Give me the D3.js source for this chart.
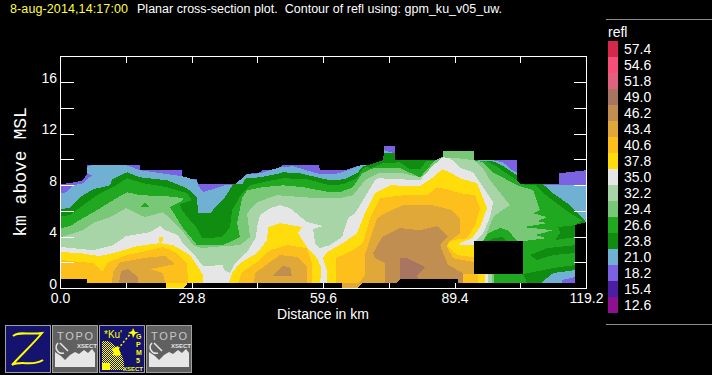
<!DOCTYPE html>
<html><head><meta charset="utf-8">
<script src="https://cdn.jsdelivr.net/npm/d3@7"></script>
<style>html,body{margin:0;padding:0;background:#000;overflow:hidden}svg{display:block}text{font-family:"Liberation Sans",sans-serif;fill:#fff;white-space:pre}</style>
</head><body><svg id="c" width="712" height="375"></svg>
<script>
const legendValues=[57.4,54.6,51.8,49.0,46.2,43.4,40.6,37.8,35.0,32.2,29.4,26.6,23.8,21.0,18.2,15.4,12.6];
const legendColors=["#d5284c","#f74f78","#e0627f","#a87660","#c08e50","#e0a838","#fdbf1c","#ffdc0c","#e6e6e6","#a8d5a8","#78c878","#20a820","#108c10","#70b0d2","#7b62e2","#4a1fa2","#8c1090"];
const xTicks=[0,14.9,29.8,44.7,59.6,74.5,89.4,104.3,119.2];
const xTickLabels=["0.0","29.8","59.6","89.4","119.2"];
const yTicks=[0,2,4,6,8,10,12,14,16];
const yTickLabels=["0","4","8","12","16"];
// contour outlines: [distance km, height km]
const refl182=[[.11,8.1],[3.29,8.26],[5.1,8.41],[6.01,8.88],[6.01,9.57],[18.02,9.57],[18.02,9.19],[27.54,9.19],[27.54,8.49],[30.94,8.49],[31.16,8.1],[37.28,8.1],[41.14,8.1],[42.04,8.88],[45.44,9.03],[45.67,9.19],[49.75,9.26],[50.2,9.57],[58.59,9.57],[58.82,9.19],[64.48,9.19],[67.88,9.57],[73.09,9.57],[73.32,11.05],[75.81,11.05],[75.81,9.96],[84.88,9.96],[86.69,10.27],[86.69,10.66],[93.72,10.66],[93.72,9.96],[103.47,9.96],[103.47,8.1],[112.98,8.1],[112.98,8.95],[119.1,9.19],[119.1,5.16],[116.62,4.92],[116.62,.43],[.11,.43]];
const refl210=[[.11,7.4],[1.25,7.48],[2.83,8.02],[5.1,8.18],[7.14,8.8],[6.01,8.95],[6.01,9.45],[7,9.57],[15.07,9.57],[18.02,9.19],[27.54,8.72],[30.94,8.41],[31.16,8.02],[32.3,7.48],[37.28,8.02],[39.55,8.1],[42.27,8.88],[45.22,8.95],[47.48,9.19],[49.75,9.42],[52.7,9.5],[56.55,9.11],[58.82,8.88],[62.21,8.88],[64.48,9.11],[67.43,9.5],[67.88,9.57],[73.09,9.57],[73.32,10.74],[75.81,10.5],[75.81,9.96],[84.88,9.96],[86.69,10.27],[86.69,10.66],[93.72,10.66],[93.72,9.96],[98.03,9.96],[100.29,9.81],[102.33,9.19],[103.47,9.03],[103.47,8.1],[111.63,8.02],[115.03,8.02],[119.1,8.02],[119.1,5.16],[116.62,4.92],[116.62,.89],[113.67,.66],[113.67,.43],[.11,.43]];
const refl238=[[.11,6.16],[2.15,6.3],[3.29,6.71],[5.1,7.25],[7.37,7.71],[11.22,8.02],[11.67,8.49],[15.07,9.03],[18.02,8.64],[24.14,8.41],[28.67,7.79],[30.94,7.09],[31.16,5.85],[33.88,5.85],[37.28,7.09],[39.1,8.1],[41.14,8.1],[42.04,8.57],[45.22,8.64],[49.75,8.95],[50.43,9.03],[54.28,8.95],[61.08,8.41],[64.48,8.49],[67.43,9.03],[68.56,9.5],[69.47,9.57],[73.09,9.96],[73.32,10.5],[75.81,10.5],[75.81,9.96],[84.88,9.96],[86.69,10.27],[86.69,10.66],[93.72,10.66],[93.72,9.96],[98.03,9.88],[100.07,9.57],[103.47,8.8],[103.47,8.1],[109.36,8.1],[111.63,7.4],[115.48,6.47],[119.1,5.16],[116.62,4.92],[116.62,1.43],[111.63,1.2],[108.91,.43],[.11,.43]];
const refl266=[[.11,5.62],[2.15,5.7],[5.1,6.47],[8.27,7.25],[11.9,7.87],[15.07,8.57],[18.7,8.18],[24.14,7.87],[28.67,7.4],[29.8,6.86],[27.08,6.55],[27.54,6.09],[29.35,5.31],[30.94,4.69],[32.07,3.91],[36.6,3.99],[38.42,4.77],[38.87,6.09],[41.14,7.4],[42.95,8.02],[45.9,8.26],[50.43,8.57],[55.87,8.49],[61.08,8.02],[64.03,8.1],[67.2,8.57],[68.56,9.34],[69.47,9.5],[70.15,9.34],[73.09,9.73],[76.95,9.81],[79.21,9.26],[81.48,9.26],[82.84,9.88],[84.2,9.88],[84.88,9.96],[93.72,9.96],[96.67,9.88],[98.48,9.57],[100.75,9.03],[103.47,8.41],[104.15,8.1],[107.73,8.02],[110.05,7.25],[112.08,6.71],[115.48,5.85],[118.2,5.31],[116.62,4.92],[116.62,1.82],[111.63,1.59],[104.83,1.12],[105.73,.43],[.11,.43]];
const refl294=[[.11,4.69],[2.15,4.85],[5.1,5.47],[8.27,6.09],[11.9,6.86],[15.07,7.48],[18.02,7.25],[24.14,7.17],[27.76,7.02],[27.76,6.86],[24.82,6.32],[27.76,4.69],[30.94,3.37],[36.83,3.37],[40.68,3.99],[40,5.08],[41.14,7.02],[42.27,7.64],[45.9,7.87],[50.43,8.02],[54.96,7.87],[61.08,7.48],[63.35,7.48],[66.29,7.87],[68.33,8.95],[70.83,9.34],[76.95,9.34],[81.48,8.64],[83.29,9.34],[84.88,9.96],[86.69,10.27],[86.69,10.66],[93.72,10.66],[93.72,9.96],[95.76,9.81],[98.03,9.03],[103.47,8.02],[107.09,7.64],[108.68,6.09],[107.09,5.85],[110.27,5.54],[108,5.23],[110.27,5.08],[104.83,4.77],[111.63,4.53],[107.55,4.15],[110.27,3.91],[104.83,3.68],[104.83,2],[98.25,1.12],[98.25,.43],[.11,.43]];
const refl322=[[.11,3.99],[5.1,4.53],[7.82,5.16],[11.22,5.54],[14.85,6.24],[19.15,5.54],[23.23,5.93],[27.54,4.53],[30.03,3.37],[32.07,3.14],[36.83,3.29],[40.68,3.37],[42.95,3.99],[42.27,5.85],[44.54,6.71],[49.07,7.25],[54.96,7.09],[58.82,7.02],[63.35,7.02],[66.29,7.25],[69.01,8.41],[71.96,8.95],[77.63,8.95],[81.48,8.64],[84.43,9.34],[86.47,10.12],[90.09,10.12],[93.72,9.96],[95.76,9.34],[97.35,8.41],[101.88,6.47],[100.07,6.09],[98.03,5.54],[96.89,4.53],[95.76,3.68],[93.72,3.37],[93.72,1.12],[97.8,1.12],[97.8,.43],[.11,.43]];
const refl350=[[.11,3.22],[7.37,2.98],[11.9,3.37],[14.85,4.07],[20.29,4.38],[22.55,4.85],[23.69,4.53],[26.63,4.15],[27.54,3.6],[30.03,2.75],[32.3,1.74],[36.83,1.82],[37.06,1.43],[38.42,1.2],[39.55,1.98],[42.27,2.83],[44.31,3.99],[44.54,4.77],[45.22,5.7],[47.48,6.24],[49.75,6.47],[52.02,6.24],[55.87,5.16],[59.5,4.85],[57.23,4.61],[57.68,3.53],[58.82,3.14],[61.08,3.37],[63.8,3.99],[65.16,5.47],[66.75,5.85],[68.56,6.86],[71.28,8.41],[71.96,8.57],[81.48,8.41],[84.43,9.57],[86.69,10.2],[88.28,10.12],[90.78,9.34],[93.49,9.03],[95.76,7.87],[98.03,6.71],[97.35,5.54],[95.76,4.3],[93.95,3.68],[93.72,1.12],[96.89,1.12],[96.89,.43],[.11,.43]];
const refl378a=[[.11,2.83],[4.42,2.75],[8.95,2.52],[12.81,2.83],[17.34,3.29],[22.55,3.53],[25.5,3.37],[29.35,2.6],[31.16,1.67],[32.3,1.05],[32.3,.43],[.11,.43]];
const refl378b=[[38.19,.43],[38.87,1.2],[40.68,1.98],[44.54,2.75],[46.8,3.76],[47.03,4.77],[49.75,5.08],[54.74,4.77],[53.83,4.3],[55.87,3.22],[58.14,2.36],[59,1.7],[58.9,.43]];
const refl378c=[[60.4,.43],[60.4,1.43],[59.5,2.36],[60.4,2.83],[64.03,3.53],[67.2,4.3],[69.01,5.85],[71.28,7.4],[74.68,8.02],[81.48,7.95],[84.43,8.64],[86.47,9.26],[88.28,9.03],[90.55,8.57],[94.4,8.18],[96.67,6.24],[95.08,4.77],[93.27,3.91],[90.55,3.53],[90.09,3.37],[93.72,3.37],[93.72,1.12],[96.21,1.12],[96.21,.43]];
const refl378d=[[22.3,3.99],[23.2,3.99],[23.2,3.7],[22.7,3.5],[22.3,3.7]];
const refl378e=[[23.91,.43],[23.91,.04],[27.99,.04],[28.67,.35],[28.9,.43]];
const refl406a=[[.11,2.21],[5.1,2.05],[7.37,1.98],[9.41,1.28],[10.77,2.05],[15.07,2.6],[20.29,2.98],[23.23,3.22],[26.4,2.75],[28.67,1.98],[28.9,.43],[.11,.43]];
const refl406b=[[40.23,.43],[41.14,1.28],[44.54,2.05],[47.48,2.98],[51.34,3.37],[55.87,3.14],[57,1.98],[57,.43]];
const refl406c=[[62.44,.43],[62.44,2.36],[66.29,2.98],[68.56,3.53],[70.15,5.47],[72.41,7.02],[77.63,7.25],[83.07,7.25],[85.33,7.87],[87.6,7.71],[90.55,7.4],[93.95,7.25],[95.08,6.24],[93.95,4.92],[92.13,3.91],[88.96,3.76],[87.6,3.37],[89.87,2.6],[93.72,2.44],[93.72,1.12],[94.63,1.12],[94.63,.43]];
const refl434a=[[11.67,.43],[11.9,1.28],[13.49,2.05],[20.29,2.44],[23.69,2.52],[25.95,1.9],[20.29,1.51],[23.23,1.2],[23.69,.43]];
const refl434b=[[43.86,.43],[44.08,1.2],[47.48,2.05],[49.75,2.6],[53.83,2.44],[55.87,1.67],[55.87,.43]];
const refl434c=[[67.65,.43],[69.01,1.05],[69.01,2.6],[70.6,4.3],[71.73,5.47],[74,5.93],[77.63,6.47],[84.43,6.47],[88.73,6.09],[90.55,5.47],[90.55,4.3],[87.83,3.6],[87.6,3.22],[88.96,2.36],[93.72,2.05],[93.72,1.12],[91.23,1.12],[91.23,.43]];
const refl434d=[[63.8,.43],[63.8,.04],[67.2,.04],[68.5,.43]];
const refl462a=[[13.26,.43],[13.71,1.36],[15.3,1.51],[17.57,.89],[17.57,.43]];
const refl462b=[[48.16,.97],[50.2,1.74],[52.02,1.67],[52.47,.97]];
const refl462c=[[73.55,.43],[73.55,1.98],[71.28,2.36],[70.83,2.75],[72.87,3.99],[76.95,4.69],[81.48,4.53],[85.33,4.85],[87.83,4.07],[86.01,3.37],[87.83,1.82],[91.23,1.2],[91.23,.43]];
const refl490=[[76.95,.43],[76.95,2.36],[78.53,2.36],[82.61,1.67],[80.8,1.05],[81.03,.74],[76.95,.74]];
// light and dark islands on the right side of the section
const island294=[[95.76,3.68],[96.89,4.3],[99.61,4.69],[101.43,4.53],[103.47,3.68]];
const island266a=[[98.03,3.91],[100.07,3.99],[101.2,3.68],[97,3.68]];
const island266b=[[112.76,4.77],[116.62,4.92],[116.62,3.99],[112.08,3.76],[113.21,4.3]];
const island266c=[[106.41,2.6],[110.27,3.14],[116.62,3.37],[116.62,2.75],[111.63,2.6],[108,2.21]];
const island266d=[[104.83,1.12],[111.63,1.59],[116.62,1.82],[116.62,1.43],[111.63,1.2],[108.91,.43],[105.73,.43]];
const island266e=[[18.02,6.32],[20.29,6.32],[19.15,6.71]];
const noDataNotch=[[.11,.43],[.11,.74],[6.01,.74],[6.01,.43]];
const noDataBase=[[76.27,.43],[76.95,.74],[90.09,.74],[90.09,.43]];
const noDataBox=[[93.72,3.68],[104.83,3.68],[104.83,1.12],[93.72,1.12]];

const layers=[
 [18.2,refl182],[21.0,refl210],[23.8,refl238],[26.6,refl266],[29.4,refl294],[26.6,island294],[23.8,island266a],[23.8,island266b],[23.8,island266c],[23.8,island266d],[26.6,island266e],
 [32.2,refl322],[35.0,refl350],[37.8,refl378a],[37.8,refl378b],[37.8,refl378c],[37.8,refl378d],[37.8,refl378e],
 [40.6,refl406a],[40.6,refl406b],[40.6,refl406c],[43.4,refl434a],[43.4,refl434b],[43.4,refl434c],[43.4,refl434d],
 [46.2,refl462a],[46.2,refl462b],[46.2,refl462c],[49.0,refl490]
];
const svg=d3.select("#c");
const x=d3.scaleLinear().domain([0,119.2]).range([60.5,586.5]);
const y=d3.scaleLinear().domain([0,18]).range([288.5,56.84]);
const color=d3.scaleOrdinal().domain(legendValues).range(legendColors);
const line=d3.line().x(d=>x(d[0])).y(d=>y(d[1])).curve(d3.curveLinear);
const plot=svg.append("g").attr("shape-rendering","crispEdges");
plot.selectAll("path.b").data(layers).join("path").attr("class","b").attr("d",d=>line(d[1])+"Z").attr("fill",d=>color(d[0]));
plot.selectAll("path.n").data([noDataNotch,noDataBase,noDataBox]).join("path").attr("class","n").attr("d",d=>line(d)+"Z").attr("fill","#000");

// frame and ticks
const ax=svg.append("g").attr("shape-rendering","crispEdges").attr("stroke","#fff").attr("fill","none");
ax.append("rect").attr("x",x(0)).attr("y",56.5).attr("width",x(119.2)-x(0)).attr("height",232);
xTicks.slice(1,-1).forEach(t=>{
 const p=Math.floor(x(t))+.5;
 ax.append("line").attr("x1",p).attr("x2",p).attr("y1",56.5).attr("y2",62.5);
 ax.append("line").attr("x1",p).attr("x2",p).attr("y1",288.5).attr("y2",282.5);
});
yTicks.slice(1).forEach(t=>{
 const p=Math.floor(y(t))+.5;
 ax.append("line").attr("x1",60.5).attr("x2",73.5).attr("y1",p).attr("y2",p);
 ax.append("line").attr("x1",586.5).attr("x2",573.5).attr("y1",p).attr("y2",p);
});
xTickLabels.forEach(s=>svg.append("text").attr("x",x(+s)).attr("y",303).attr("text-anchor","middle").attr("font-size",14).text(s));
yTickLabels.forEach(s=>svg.append("text").attr("x",57).attr("y",y(+s)).attr("text-anchor","end").attr("font-size",14).text(s));
svg.append("text").attr("x",323).attr("y",319).attr("text-anchor","middle").attr("font-size",14).text("Distance in km");
svg.append("text").attr("transform","translate(25.5,172) rotate(-90)").attr("text-anchor","middle").style("font-family","'Liberation Mono',monospace").attr("font-size",18).text("km above MSL");

// title
svg.append("text").attr("x",10).attr("y",13).attr("font-size",12.5).attr("textLength",118).style("fill","#ffff40").text("8-aug-2014,14:17:00");
svg.append("text").attr("x",137).attr("y",13).attr("font-size",12.5).attr("textLength",365).text("Planar cross-section plot.  Contour of refl using: gpm_ku_v05_uw.");

// legend
const lg=svg.append("g");
lg.append("line").attr("x1",606).attr("x2",712).attr("y1",19.5).attr("y2",19.5).attr("stroke","#8a8a8a");
lg.append("line").attr("x1",606).attr("x2",712).attr("y1",324.5).attr("y2",324.5).attr("stroke","#8a8a8a");
lg.append("text").attr("x",608).attr("y",37).attr("font-size",14).text("refl");
lg.selectAll("rect").data(legendValues).join("rect").attr("x",608).attr("y",(d,i)=>41+i*16).attr("width",10).attr("height",16).attr("fill",d=>color(d));
lg.selectAll("text.v").data(legendValues).join("text").attr("class","v").attr("x",624).attr("y",(d,i)=>54+i*16).attr("font-size",14).text(d=>d.toFixed(1));

// icon buttons
const navy="#14146e",grey="#606060",yel="#ffff00";
const defs=svg.append("defs");
const pat=defs.append("pattern").attr("id","dith").attr("width",2).attr("height",2).attr("patternUnits","userSpaceOnUse");
pat.append("rect").attr("width",1).attr("height",1).attr("fill",yel);
pat.append("rect").attr("x",1).attr("y",1).attr("width",1).attr("height",1).attr("fill",yel);
function box(px,fill){const g=svg.append("g").attr("transform",`translate(${px},325)`);
 g.append("rect").attr("x",.5).attr("y",.5).attr("width",45).attr("height",47).attr("fill",fill).attr("stroke","#a0a0a0");return g;}
const z=box(5,navy);
z.append("path").attr("d","M8 11C14 6 22 10 37 8C30 17 16 30 7 40C16 35 28 42 38 35").attr("fill","none").attr("stroke",yel).attr("stroke-width",2);
function topo(px){const g=box(px,grey);
 g.append("text").attr("x",5).attr("y",15).attr("font-size",11).attr("textLength",36).style("fill","#c8c8c8").text("TOPO");
 g.append("text").attr("x",25).attr("y",23).attr("font-size",6).attr("font-weight","bold").style("fill","#e6e6e6").text("XSECT");
 g.append("path").attr("d","M3 42V27L9 31L13 35L18 30L23 27L27 29L32 25L36 28L40 24L43 28V42Z").attr("fill","#e6e6e6");
 g.append("path").attr("d","M6 18A6 6 0 0 0 12 28M8 18L16 26").attr("fill","none").attr("stroke","#e6e6e6").attr("stroke-width",1.5);
}
topo(52);topo(146);
const g=box(99,navy);
g.append("text").attr("x",5).attr("y",13).attr("font-size",10).attr("textLength",18).style("fill",yel).text("*Ku'");
g.append("path").attr("d","M3 16H9A26 28 0 0 1 25 45H3Z").attr("fill","url(#dith)");
g.append("path").attr("d","M3 38H11V45H3ZM13 24L19 21L22 30L16 31Z").attr("fill",yel);
g.append("path").attr("d","M14 30L32 8").attr("stroke",yel).attr("stroke-dasharray","2 2").attr("stroke-width",1.5);
g.append("path").attr("d","M34 3L36 7L40 7L36 9L34 13L33 9L29 8L33 6Z").attr("fill",yel);
g.append("text").attr("x",24).attr("y",46).attr("font-size",6).attr("font-weight","bold").style("fill",yel).text("XSECT");
["G","P","M","5"].forEach((s,i)=>g.append("text").attr("x",37).attr("y",[14,22,30,38][i]).attr("font-size",7).attr("font-weight","bold").style("fill",yel).text(s));
</script></body></html>
